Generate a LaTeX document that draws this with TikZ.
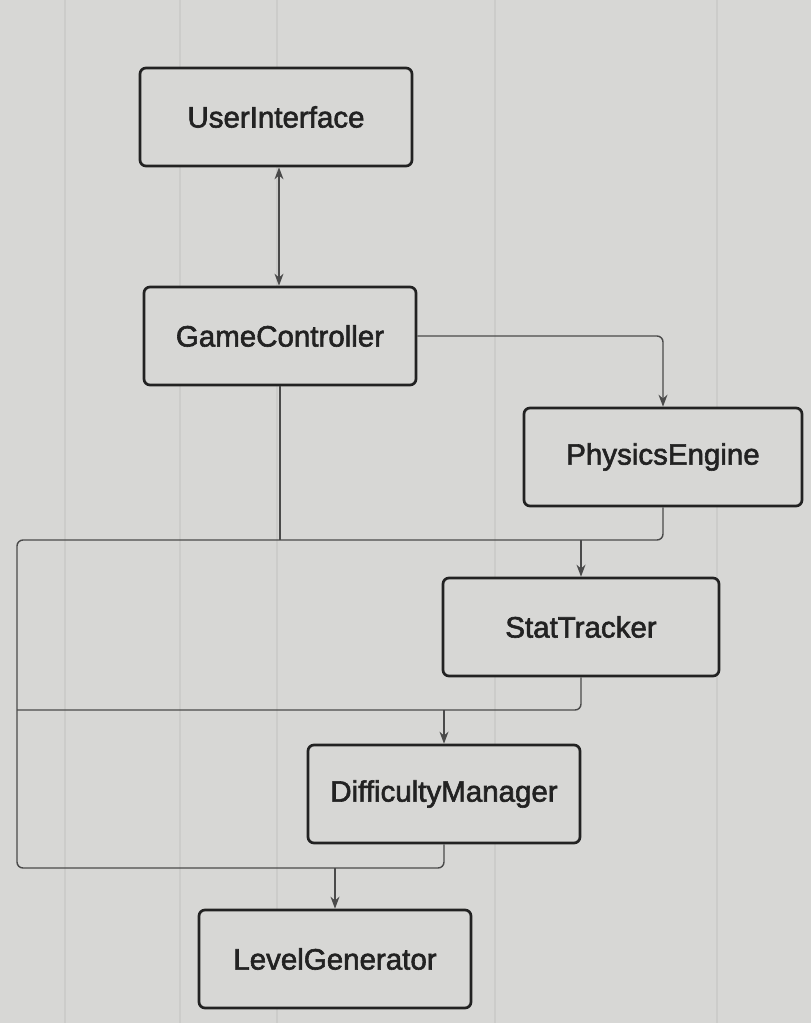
\documentclass[tikz,border=0pt]{standalone}
\usepackage{fontspec}
\setmainfont{Liberation Sans}
\newfontfamily\boxfont{Liberation Sans}[FakeBold=2]
\usetikzlibrary{arrows.meta}
\definecolor{bg}{HTML}{D7D7D5}
\definecolor{gridc}{HTML}{CCCCCA}
\definecolor{ink}{HTML}{222222}
\definecolor{wire}{HTML}{4A4A4A}
\tikzset{
  box/.style={draw=ink, line width=2.7pt, rounded corners=6pt, fill=bg,
    minimum width=272pt, minimum height=98pt, inner sep=0pt,
    font=\boxfont\fontsize{29.5}{33}\selectfont, text=ink},
  wirestyle/.style={draw=wire, line width=1.4pt, rounded corners=6pt},
  arr/.style={wirestyle, -{Stealth[length=12pt,width=9pt]}},
  gridline/.style={draw=gridc, line width=1.1pt}
}
\begin{document}
\begin{tikzpicture}[x=1pt,y=-1pt]
\fill[bg] (0,0) rectangle (811,1023);
\useasboundingbox (0,0) rectangle (811,1023);
\foreach \gx in {65,180,277,495,717} {\draw[gridline] (\gx,0) -- (\gx,1023);}
\node[box] (ui) at (276,117) {UserInterface};
\node[box] (gc) at (280,336) {GameController};
\node[box, minimum width=278pt] (pe) at (663,457) {PhysicsEngine};
\node[box, minimum width=276pt] (st) at (581,627) {StatTracker};
\node[box] (dm) at (444,794) {DifficultyManager};
\node[box] (lg) at (335,959) {LevelGenerator};
\coordinate (b1) at (17,540);
\coordinate (b2) at (17,710);
\coordinate (b3) at (17,868);
% UI <-> GC
\draw[arr, {Stealth[length=12pt,width=9pt]}-{Stealth[length=12pt,width=9pt]}] (gc.north -| 279,0) -- (ui.south -| 279,0);
% GC -> PE
\draw[arr] (gc.east) -| (pe.north);
% bus lines
\draw[wirestyle] (pe.south) |- (b1) -- (b3) -| (dm.south);
\draw[wirestyle] (gc.south) -- (gc.south |- b1);
\draw[wirestyle] (st.south) |- (b2);
% arrows into nodes
\draw[arr] (st.north |- b1) -- (st.north);
\draw[arr] (dm.north |- b2) -- (dm.north);
\draw[arr] (lg.north |- b3) -- (lg.north);
\end{tikzpicture}
\end{document}
